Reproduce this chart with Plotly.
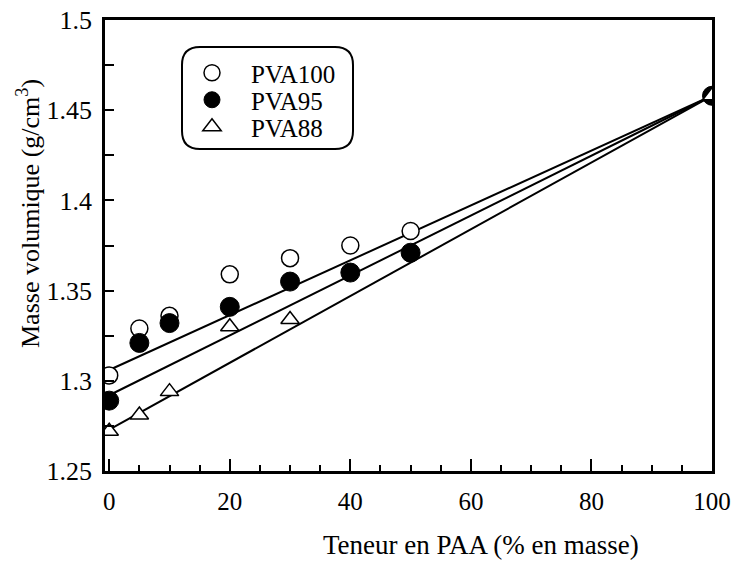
import plotly.graph_objects as go

# Data
paa = [0, 5, 10, 20, 30, 40, 50, 100]
pva100 = [1.303, 1.329, 1.336, 1.359, 1.368, 1.375, 1.383, 1.458]
pva95_x = [0, 5, 10, 20, 30, 40, 50, 100]
pva95 = [1.289, 1.321, 1.332, 1.341, 1.355, 1.360, 1.371, 1.458]
pva88_x = [0, 5, 10, 20, 30, 100]
pva88 = [1.272, 1.281, 1.294, 1.330, 1.334, 1.458]

fit_x = [0, 100]
fit100 = [1.306, 1.458]
fit95 = [1.292, 1.458]
fit88 = [1.273, 1.458]

x_ticks = [0, 20, 40, 60, 80, 100]
y_ticks = [1.25, 1.3, 1.35, 1.4, 1.45, 1.5]
y_labels = ["1.25", "1.3", "1.35", "1.4", "1.45", "1.5"]

FONT = "Times New Roman, Liberation Serif, DejaVu Serif, serif"

OFF = 0  # body margin removed by post_script
W, H = 742 - OFF, 561 - OFF
L = 105 - OFF
T = 20 - OFF
R = W - (712 - OFF)
B = H - (471 - OFF)
PW, PH = W - L - R, H - T - B

def px(xs):  # screen x pixel -> paper
    return (xs - OFF - L) / PW

def py(ys):  # screen y pixel -> paper
    return (H - B - (ys - OFF)) / PH

fig = go.Figure()
for fy in [fit100, fit95, fit88]:
    fig.add_trace(go.Scatter(x=fit_x, y=fy, mode="lines",
                             line=dict(color="black", width=2),
                             showlegend=False, hoverinfo="skip"))

fig.add_trace(go.Scatter(x=paa, y=pva100, mode="markers", name="PVA100", legend="legend",
                         marker=dict(symbol="circle", size=17, color="white",
                                     line=dict(color="black", width=1.5))))
fig.add_trace(go.Scatter(x=pva95_x, y=pva95, mode="markers", name="PVA95", legend="legend2",
                         marker=dict(symbol="circle", size=19, color="black",
                                     line=dict(color="black", width=1))))
fig.add_trace(go.Scatter(x=pva88_x, y=pva88, mode="markers", name="PVA88", legend="legend3",
                         marker=dict(symbol="triangle-up", size=16, color="white",
                                     line=dict(color="black", width=1.5))))

# rounded legend box
x0, x1, y1, y0 = px(182), px(353), py(47), py(149)
rx = 18 / PW
ry = 18 / PH
path = (f"M {x0+rx},{y1} L {x1-rx},{y1} Q {x1},{y1} {x1},{y1-ry} "
        f"L {x1},{y0+ry} Q {x1},{y0} {x1-rx},{y0} L {x0+rx},{y0} "
        f"Q {x0},{y0} {x0},{y0+ry} L {x0},{y1-ry} Q {x0},{y1} {x0+rx},{y1} Z")
fig.add_shape(type="path", path=path, xref="paper", yref="paper",
              line=dict(color="black", width=2))

fig.add_annotation(text="Teneur en PAA (% en masse)", xref="paper", yref="paper",
                   x=px(481), y=py(545), xanchor="center", yanchor="middle",
                   showarrow=False, font=dict(family=FONT, size=27, color="black"))
fig.add_annotation(text="Masse volumique (g/cm<sup>3</sup>)", xref="paper", yref="paper",
                   x=px(28), y=py(214), xanchor="center", yanchor="middle",
                   textangle=-90, showarrow=False,
                   font=dict(family=FONT, size=26, color="black"))

def leg(yc):
    return dict(x=px(173), y=py(yc), xanchor="left", yanchor="middle",
                bgcolor="rgba(0,0,0,0)", borderwidth=0,
                font=dict(family=FONT, size=25, color="black"),
                itemwidth=68, tracegroupgap=0)

fig.update_layout(
    width=W, height=H,
    margin=dict(l=L, r=R, t=T, b=B),
    paper_bgcolor="white", plot_bgcolor="white",
    font=dict(family=FONT, size=25, color="black"),
    showlegend=True,
    legend=leg(73), legend2=leg(100), legend3=leg(127),
    xaxis=dict(range=[-0.7, 100], tickvals=x_ticks, automargin=False,
               ticks="inside", ticklen=12, tickwidth=1.5, tickcolor="black",
               minor=dict(dtick=5, ticks="inside", ticklen=6, tickwidth=1.5, tickcolor="black"),
               showline=True, linecolor="black", linewidth=2.5, mirror=True,
               showgrid=False, zeroline=False, ticklabelstandoff=6,
               ticklabeloverflow="allow",
               tickfont=dict(family=FONT, size=25)),
    yaxis=dict(range=[1.25, 1.5], tickvals=y_ticks, ticktext=y_labels, automargin=False,
               ticks="inside", ticklen=9, tickwidth=1.5, tickcolor="black",
               minor=dict(dtick=0.025, tick0=1.25, ticks="inside", ticklen=9, tickwidth=1.5, tickcolor="black"),
               showline=True, linecolor="black", linewidth=2.5, mirror=True,
               showgrid=False, zeroline=False, ticklabelstandoff=5,
               ticklabeloverflow="allow",
               tickfont=dict(family=FONT, size=26)),
)

fig.write_html("out.html", config={"displayModeBar": False},
               post_script="document.body.style.margin='0';")
